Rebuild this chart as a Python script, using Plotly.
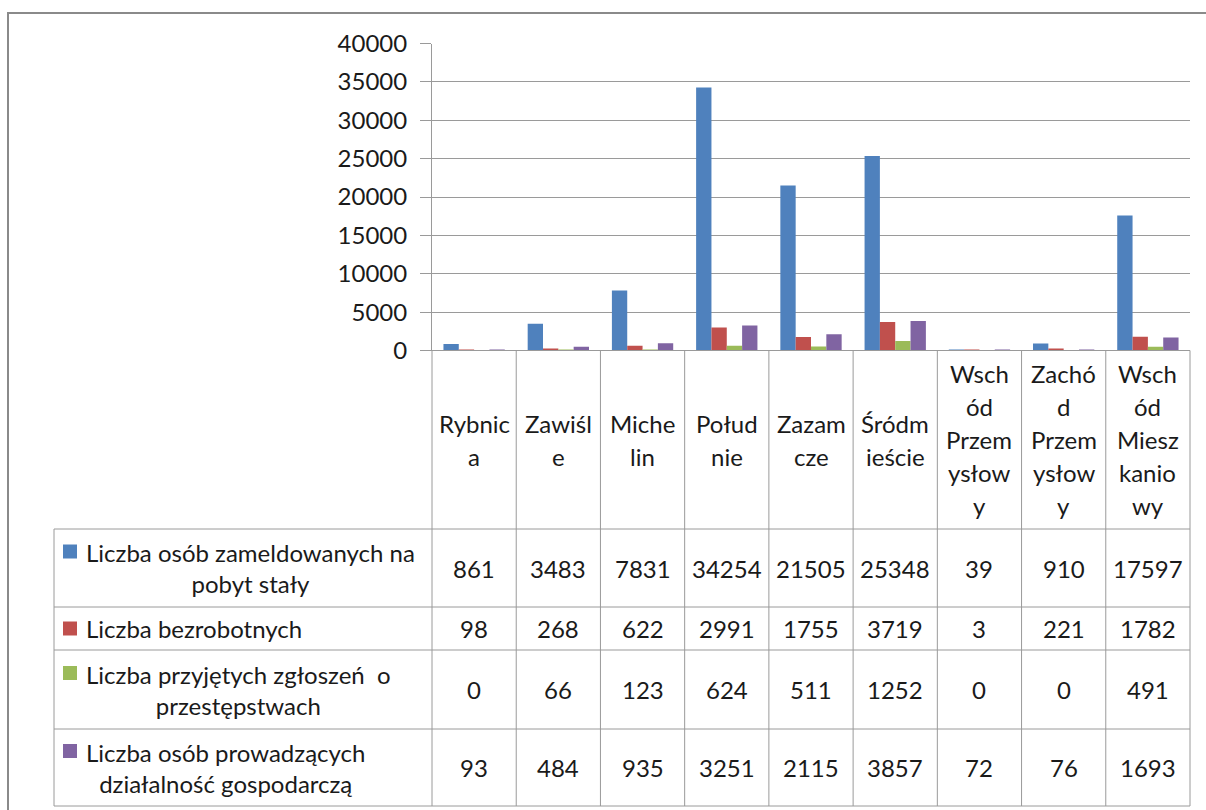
import plotly.graph_objects as go

# ---------------- data ----------------
districts = ["Rybnica", "Zawiśle", "Michelin", "Południe", "Zazamcze",
             "Śródmieście", "Wschód Przemysłowy", "Zachód Przemysłowy",
             "Wschód Mieszkaniowy"]
district_labels = ["Rybnic|a", "Zawiśl|e", "Miche|lin", "Połud|nie", "Zazam|cze",
                   "Śródm|ieście", "Wsch|ód|Przem|ysłow|y", "Zachó|d|Przem|ysłow|y",
                   "Wsch|ód|Miesz|kanio|wy"]

zameldowani = [861, 3483, 7831, 34254, 21505, 25348, 39, 910, 17597]
bezrobotni = [98, 268, 622, 2991, 1755, 3719, 3, 221, 1782]
przestepstwa = [0, 66, 123, 624, 511, 1252, 0, 0, 491]
dzialalnosc = [93, 484, 935, 3251, 2115, 3857, 72, 76, 1693]

series_names = ["Liczba osób zameldowanych na pobyt stały",
                "Liczba bezrobotnych",
                "Liczba przyjętych zgłoszeń o przestępstwach",
                "Liczba osób prowadzących działalność gospodarczą"]
series_labels = ["Liczba osób zameldowanych na<br>pobyt stały",
                 "Liczba bezrobotnych",
                 "Liczba przyjętych zgłoszeń\u00a0 o<br>przestępstwach",
                 "Liczba osób prowadzących<br>działalność gospodarczą"]
series_values = [zameldowani, bezrobotni, przestepstwa, dzialalnosc]
series_colors = ["#4F81BD", "#C0504D", "#9BBB59", "#8064A2"]

y_ticks = [0, 5000, 10000, 15000, 20000, 25000, 30000, 35000, 40000]

# ---------------- layout geometry (pixels) ----------------
W, H = 1206, 810
PLOT_L, PLOT_R = 432, 1190
PLOT_T, PLOT_B = 43.5, 350.5
TABLE_L = 54
ROW_EDGES = [350.5, 529, 607, 650, 729, 806]
LINE = 33
FONT = "Lato, 'Open Sans', sans-serif"
FS = 24
TXT = "#1a1a1a"
GRID = "#9a9a9a"


def px(x):
    return x / W


def py(y):
    return 1 - y / H


n = len(districts)
col_w = (PLOT_R - PLOT_L) / n


def col_edge(i):
    return PLOT_L + i * col_w


fig = go.Figure()
xs = list(range(n))
for name, vals, col in zip(series_names, series_values, series_colors):
    fig.add_trace(go.Bar(x=xs, y=vals, name=name, marker_color=col,
                         marker_line_width=0, showlegend=False))

shapes = []
annotations = []

# table grid: horizontal lines
for k, ye in enumerate(ROW_EDGES):
    x0 = PLOT_L if k == 0 else TABLE_L
    shapes.append(dict(type="line", xref="paper", yref="paper",
                       x0=px(x0), x1=px(PLOT_R), y0=py(ye), y1=py(ye),
                       line=dict(color=GRID, width=1)))
# vertical lines
for i in range(n + 1):
    xe = col_edge(i)
    shapes.append(dict(type="line", xref="paper", yref="paper",
                       x0=px(xe), x1=px(xe), y0=py(ROW_EDGES[0]), y1=py(ROW_EDGES[-1]),
                       line=dict(color=GRID, width=1)))
shapes.append(dict(type="line", xref="paper", yref="paper",
                   x0=px(TABLE_L), x1=px(TABLE_L), y0=py(ROW_EDGES[1]), y1=py(ROW_EDGES[-1]),
                   line=dict(color=GRID, width=1)))

# outer chart border (top and left visible)
shapes.append(dict(type="path", xref="paper", yref="paper",
                   path=f"M {px(8)} {py(812)} L {px(8)} {py(13)} L {px(1210)} {py(13)}",
                   line=dict(color="#8a8a8a", width=2)))

# header: category labels, one line at a time
hdr_c = (ROW_EDGES[0] + ROW_EDGES[1]) / 2
for i, lab in enumerate(district_labels):
    lines = lab.split("|")
    first = hdr_c - (len(lines) - 1) * LINE / 2
    for j, t in enumerate(lines):
        annotations.append(dict(xref="x", yref="paper", x=i, y=py(first + j * LINE),
                                text=t, showarrow=False, xanchor="center", yanchor="middle",
                                font=dict(family=FONT, size=FS, color=TXT)))

# data rows
for r, (lab, vals, col) in enumerate(zip(series_labels, series_values, series_colors)):
    top, bot = ROW_EDGES[r + 1], ROW_EDGES[r + 2]
    c = (top + bot) / 2
    nl = lab.count("<br>") + 1
    first = c - (nl - 1) * LINE / 2
    shapes.append(dict(type="rect", xref="paper", yref="paper",
                       x0=px(63), x1=px(77), y0=py(first - 7), y1=py(first + 7),
                       fillcolor=col, line=dict(width=0)))
    annotations.append(dict(xref="paper", yref="paper", x=px(84), y=py(c),
                            text=lab, showarrow=False, xanchor="left", yanchor="middle",
                            align="center", font=dict(family=FONT, size=FS, color=TXT)))
    for i, v in enumerate(vals):
        annotations.append(dict(xref="x", yref="paper", x=i, y=py(c),
                                text=str(v), showarrow=False, xanchor="center",
                                yanchor="middle",
                                font=dict(family=FONT, size=FS, color=TXT)))

fig.update_layout(
    template="none",
    width=W, height=H, autosize=False,
    margin=dict(l=0, r=0, t=0, b=0, pad=0, autoexpand=False),
    showlegend=False,
    paper_bgcolor="white", plot_bgcolor="white",
    barmode="group", bargap=0.272, bargroupgap=0,
    xaxis=dict(domain=[px(PLOT_L), px(PLOT_R)], range=[-0.5, n - 0.5],
               showticklabels=False, showgrid=False, zeroline=False, showline=False,
               ticks="", fixedrange=True, automargin=False),
    yaxis=dict(domain=[py(PLOT_B), py(PLOT_T)], range=[0, 40000],
               tickvals=y_ticks, ticktext=[str(t) for t in y_ticks],
               showgrid=True, gridcolor=GRID, gridwidth=1, zeroline=False,
               showline=True, linecolor=GRID, linewidth=1,
               ticks="outside", ticklen=11, tickcolor=GRID, ticklabelstandoff=8,
               tickfont=dict(family=FONT, size=FS, color=TXT), fixedrange=True,
               automargin=False),
    shapes=shapes, annotations=annotations,
    font=dict(family=FONT, size=FS, color=TXT),
)

fig.write_html("out.html", config={"responsive": False, "displayModeBar": False},
               post_script="document.body.style.margin='0';document.body.style.padding='0';document.body.style.overflow='hidden';")
